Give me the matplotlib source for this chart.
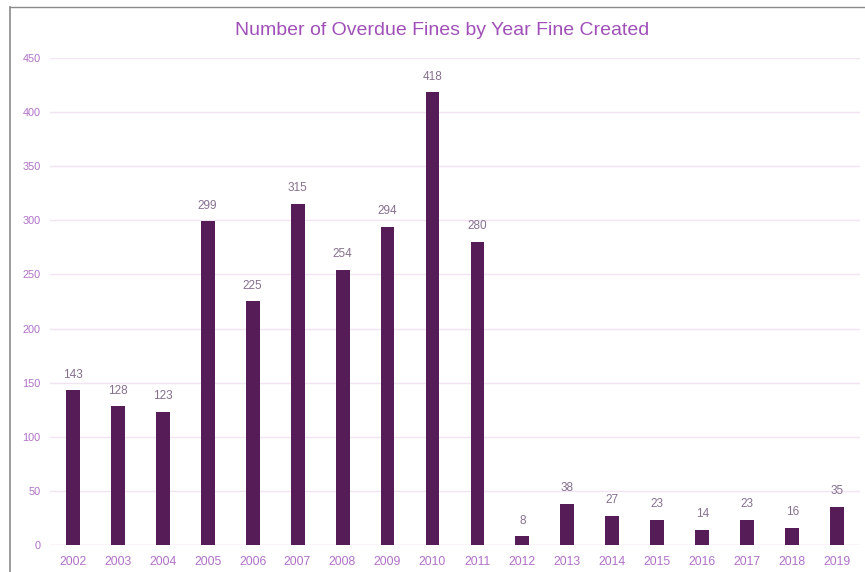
import matplotlib
matplotlib.use("Agg")
import matplotlib.pyplot as plt
from matplotlib.lines import Line2D

# ----------------------------------------------------------
# DATA
# ----------------------------------------------------------
years = ["2002", "2003", "2004", "2005", "2006", "2007", "2008", "2009", "2010",
         "2011", "2012", "2013", "2014", "2015", "2016", "2017", "2018", "2019"]
fines = [143, 128, 123, 299, 225, 315, 254, 294, 418,
         280, 8, 38, 27, 23, 14, 23, 16, 35]
y_ticks = [0, 50, 100, 150, 200, 250, 300, 350, 400, 450]

BAR_COLOR = "#561c57"
TICK_COLOR = "#b070c8"
TITLE_COLOR = "#a050b8"
VALUE_COLOR = "#86708f"
GRID_COLOR = "#f3e4f3"

plt.rcParams["font.family"] = ["Liberation Sans", "DejaVu Sans"]

fig = plt.figure(figsize=(8.65, 5.72), dpi=100)
ax = fig.add_axes([0.058, 0.047, 0.936, 0.852])

x = list(range(len(years)))
bars = ax.bar(x, fines, width=0.31, color=BAR_COLOR, zorder=3)

for rect, val in zip(bars, fines):
    ax.annotate(str(val), (rect.get_x() + rect.get_width() / 2, val),
                xytext=(0, 7), textcoords="offset points",
                ha="center", va="bottom", fontsize=8.5, color=VALUE_COLOR)

ax.set_xlim(-0.5, len(years) - 0.5)
ax.set_ylim(0, 450)
ax.set_xticks(x)
ax.set_xticklabels(years, fontsize=8.8, color=TICK_COLOR)
ax.set_yticks(y_ticks)
ax.set_yticklabels([str(t) for t in y_ticks], fontsize=7.8, color=TICK_COLOR)
ax.tick_params(axis="x", length=0, pad=8)
ax.tick_params(axis="y", length=0, pad=7)
ax.yaxis.grid(True, color=GRID_COLOR, linewidth=1, zorder=0)
for side in ["top", "right", "left", "bottom"]:
    ax.spines[side].set_visible(False)
ax.axhline(0, color=GRID_COLOR, linewidth=1, zorder=1)

fig.text(0.511, 0.947, "Number of Overdue Fines by Year Fine Created",
         ha="center", va="center", fontsize=14, color=TITLE_COLOR)

# outer frame (left and top edges of the panel)
fig.add_artist(Line2D([0.012, 0.012], [0.0, 0.988], color="#8a8a8a", linewidth=1.2))
fig.add_artist(Line2D([0.012, 1.0], [0.988, 0.988], color="#8a8a8a", linewidth=1.0))

fig.savefig("out.png", dpi=100)
